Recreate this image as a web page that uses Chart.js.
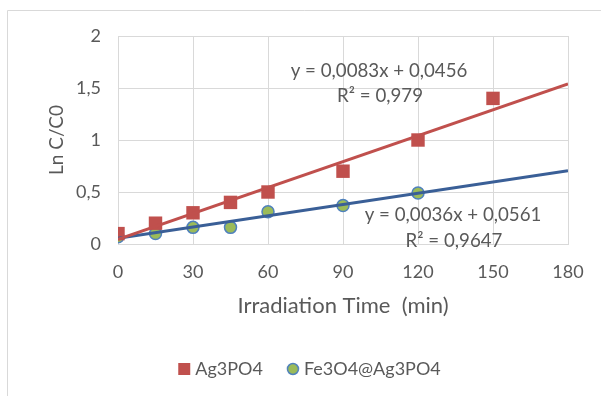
<!DOCTYPE html>
<html>
<head>
<meta charset="utf-8">
<script src="https://cdn.jsdelivr.net/npm/chart.js@4.4.1/dist/chart.umd.min.js"></script>
<style>
html,body{margin:0;padding:0;background:#fff;}
#wrap{position:relative;width:601px;height:396px;}
</style>
</head>
<body>
<div id="wrap"><canvas id="c" width="601" height="396"></canvas></div>
<script>
// ---- data ----
const timeAg = [0, 15, 30, 45, 60, 90, 120, 150];
const lnAg   = [0.10, 0.20, 0.30, 0.40, 0.50, 0.70, 1.00, 1.40];
const timeFe = [0, 15, 30, 45, 60, 90, 120];
const lnFe   = [0.07, 0.10, 0.16, 0.16, 0.31, 0.37, 0.49];
const trendX   = [0, 180];
const trendAg  = [0.0456, 1.5396];
const trendFe  = [0.0561, 0.7041];
const xTicks = [0, 30, 60, 90, 120, 150, 180];
const yTicks = [0, 0.5, 1, 1.5, 2];
const seriesNames = ['Ag3PO4', 'Fe3O4@Ag3PO4'];
const eqAg = ['y = 0,0083x + 0,0456', 'R² = 0,979'];
const eqFe = ['y = 0,0036x + 0,0561', 'R² = 0,9647'];

const RED = '#C0504D', BLUE = '#3A5F97', GREEN = '#9BBB59', MBLUE = '#4F81BD';
const TXT = '#595959', GRID = '#D9D9D9';
const FONT = 'Lato, Carlito, "Open Sans", sans-serif';

const pts = (xs, ys) => xs.map((x, i) => ({x, y: ys[i]}));

const BOX_W = 22, ICON_W = 32;
function legendIcon(kind) {
  const c = document.createElement('canvas');
  c.width = ICON_W; c.height = 14;
  const g = c.getContext('2d');
  const ox = ICON_W - 14;
  if (kind === 'rect') { g.fillStyle = RED; g.fillRect(ox + 1, 1, 12, 12); }
  else { g.beginPath(); g.arc(ox + 7, 7, 5.5, 0, Math.PI*2); g.fillStyle = GREEN; g.fill(); g.lineWidth = 1.5; g.strokeStyle = MBLUE; g.stroke(); }
  return c;
}
const icons = [legendIcon('rect'), legendIcon('circle')];

const frame = {
  id: 'frame',
  beforeDraw(chart) {
    const ctx = chart.ctx;
    ctx.save();
    ctx.strokeStyle = GRID; ctx.lineWidth = 1;
    ctx.beginPath();
    ctx.moveTo(7.5, 396); ctx.lineTo(7.5, 10.5); ctx.lineTo(601, 10.5);
    ctx.stroke();
    ctx.restore();
  },
  afterDatasetsDraw(chart) {
    const ctx = chart.ctx, a = chart.chartArea;
    ctx.save();
    ctx.fillStyle = TXT;
    ctx.font = '18.7px ' + FONT;
    ctx.textAlign = 'center'; ctx.textBaseline = 'middle';
    ctx.fillText(eqAg[0], a.left + 261, a.top + 35);
    ctx.fillText(eqAg[1], a.left + 262, a.top + 60);
    ctx.fillText(eqFe[0], a.left + 335, a.top + 179);
    ctx.fillText(eqFe[1], a.left + 336, a.top + 205);
    ctx.restore();
  }
};

const PADL = 4;
new Chart(document.getElementById('c'), {
  type: 'scatter',
  data: {
    datasets: [
      { label: seriesNames[0], data: pts(timeAg, lnAg), pointStyle: 'rect', pointRadius: 9.5, pointHoverRadius: 9.5,
        backgroundColor: RED, borderColor: RED, borderWidth: 0, showLine: false, order: 2 },
      { label: seriesNames[1], data: pts(timeFe, lnFe), pointStyle: 'circle', pointRadius: 6, pointHoverRadius: 6,
        backgroundColor: GREEN, borderColor: MBLUE, borderWidth: 1.5, showLine: false, order: 2 },
      { label: 'trendAg', data: pts(trendX, trendAg), type: 'line', showLine: true, pointRadius: 0,
        borderColor: RED, borderWidth: 3, fill: false, order: 0 },
      { label: 'trendFe', data: pts(trendX, trendFe), type: 'line', showLine: true, pointRadius: 0,
        borderColor: BLUE, borderWidth: 3, fill: false, order: 0 }
    ]
  },
  options: {
    responsive: false,
    animation: false,
    events: [],
    layout: { padding: { top: 36, left: PADL, right: 0, bottom: 8 } },
    plugins: {
      tooltip: { enabled: false },
      legend: {
        position: 'bottom',
        labels: {
          usePointStyle: true,
          pointStyleWidth: BOX_W,
          boxHeight: 12,
          padding: 10,
          color: TXT,
          font: { family: FONT, size: 18 },
          generateLabels(chart) {
            return seriesNames.map((n, i) => ({
              text: n, datasetIndex: i, pointStyle: icons[i], fillStyle: '#fff',
              strokeStyle: '#fff', lineWidth: 0, fontColor: TXT, hidden: false
            }));
          }
        }
      }
    },
    scales: {
      x: {
        type: 'linear', min: 0, max: 180,
        afterBuildTicks(s) { s.ticks = xTicks.map(v => ({value: v})); },
        grid: { color: GRID, drawTicks: false, lineWidth: 1 },
        border: { color: GRID },
        ticks: { color: TXT, font: { family: FONT, size: 18 }, padding: 17 },
        title: { display: true, text: 'Irradiation Time  (min)', color: TXT,
                 font: { family: FONT, size: 22 }, padding: { top: 0, bottom: 31 } },
        afterFit(s) { s.height = 106; }
      },
      y: {
        type: 'linear', min: 0, max: 2,
        afterBuildTicks(s) { s.ticks = yTicks.map(v => ({value: v})); },
        grid: { color: GRID, drawTicks: false, lineWidth: 1 },
        border: { color: GRID },
        ticks: { color: TXT, font: { family: FONT, size: 18 }, padding: 17,
                 callback: v => String(v).replace('.', ',') },
        title: { display: true, text: 'Ln C/C0', color: TXT,
                 font: { family: FONT, size: 19 }, padding: { top: 57 - PADL - 11.4, bottom: 0 } },
        afterFit(s) { s.width = 118 - PADL; }
      },
      y2: {
        type: 'linear', position: 'right', display: true,
        grid: { display: false, drawTicks: false }, border: { display: false },
        ticks: { display: false },
        afterFit(s) { s.width = 33; }
      }
    }
  },
  plugins: [frame]
});
</script>
</body>
</html>
